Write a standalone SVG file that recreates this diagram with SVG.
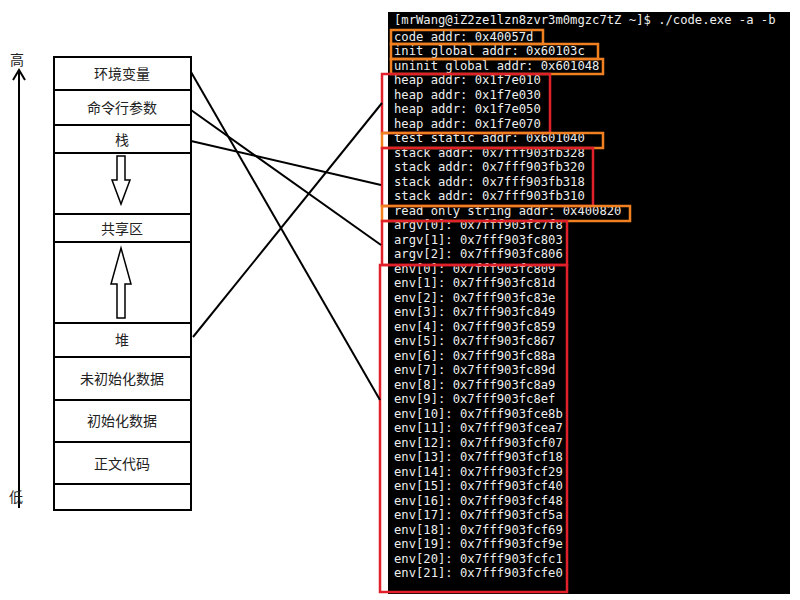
<svg xmlns="http://www.w3.org/2000/svg" width="800" height="600" viewBox="0 0 800 600">
<style>
.cell{fill:#fff;stroke:#000;stroke-width:2}
.lbl{font-family:"Noto Sans CJK SC",sans-serif;font-size:14px;fill:#222;text-anchor:middle}
.t{font-family:"DejaVu Sans Mono",monospace;font-size:12.2px;fill:#eee}
.ob{fill:none;stroke:#f08020;stroke-width:2.5}
.rb{fill:none;stroke:#e0202a;stroke-width:2.5}
.ln{stroke:#000;stroke-width:2;fill:none}
</style>
<defs><marker id="ah" markerWidth="10" markerHeight="10" refX="5" refY="4" orient="auto" markerUnits="userSpaceOnUse"><path d="M0,9 L5,0 L10,9" fill="none" stroke="#000" stroke-width="2"/></marker></defs>
<rect width="800" height="600" fill="#fff"/>
<g id="axis">
<line x1="19" y1="508" x2="19" y2="72" class="ln"/>
<path d="M13,80 L19,70 L25,80" class="ln"/>
<text x="17" y="65" class="lbl" font-size="13">高</text>
<text x="16" y="502" class="lbl" font-size="13">低</text>
</g>
<g id="memory">
<rect x="54" y="57" width="137" height="33" class="cell"/><text x="122" y="79" class="lbl">环境变量</text>
<rect x="54" y="90" width="137" height="35" class="cell"/><text x="122" y="113" class="lbl">命令行参数</text>
<rect x="54" y="125" width="137" height="28" class="cell"/><text x="122" y="145" class="lbl">栈</text>
<rect x="54" y="153" width="137" height="61" class="cell"/>
<rect x="54" y="214" width="137" height="28" class="cell"/><text x="122" y="234" class="lbl">共享区</text>
<rect x="54" y="242" width="137" height="81" class="cell"/>
<rect x="54" y="323" width="137" height="34" class="cell"/><text x="122" y="345" class="lbl">堆</text>
<rect x="54" y="357" width="137" height="43" class="cell"/><text x="122" y="384" class="lbl">未初始化数据</text>
<rect x="54" y="400" width="137" height="42" class="cell"/><text x="122" y="426" class="lbl">初始化数据</text>
<rect x="54" y="442" width="137" height="42" class="cell"/><text x="122" y="469" class="lbl">正文代码</text>
<rect x="54" y="484" width="137" height="26" class="cell"/>
<path d="M117,156 L125,156 L125,180 L130,180 L121,204 L112,180 L117,180 Z" fill="#fff" stroke="#000" stroke-width="1.5"/>
<path d="M117,318 L125,318 L125,284 L131,284 L121,248 L111,284 L117,284 Z" fill="#fff" stroke="#000" stroke-width="1.5"/>
</g>
<g id="terminal">
<rect x="388" y="12" width="402" height="582" fill="#000"/>
<g class="t">
<text x="394" y="24">[mrWang@iZ2ze1lzn8zvr3m0mgzc7tZ ~]$ ./code.exe -a -b</text>
<text x="394" y="41">code addr: 0x40057d</text>
<text x="394" y="55">init global addr: 0x60103c</text>
<text x="394" y="70">uninit global addr: 0x601048</text>
<text x="394" y="84">heap addr: 0x1f7e010</text>
<text x="394" y="99">heap addr: 0x1f7e030</text>
<text x="394" y="113">heap addr: 0x1f7e050</text>
<text x="394" y="128">heap addr: 0x1f7e070</text>
<text x="394" y="142">test static addr: 0x601040</text>
<text x="394" y="157">stack addr: 0x7fff903fb328</text>
<text x="394" y="171">stack addr: 0x7fff903fb320</text>
<text x="394" y="186">stack addr: 0x7fff903fb318</text>
<text x="394" y="200">stack addr: 0x7fff903fb310</text>
<text x="394" y="215">read only string addr: 0x400820</text>
<text x="394" y="229">argv[0]: 0x7fff903fc7f8</text>
<text x="394" y="244">argv[1]: 0x7fff903fc803</text>
<text x="394" y="258">argv[2]: 0x7fff903fc806</text>
<text x="394" y="273">env[0]: 0x7fff903fc809</text>
<text x="394" y="287">env[1]: 0x7fff903fc81d</text>
<text x="394" y="302">env[2]: 0x7fff903fc83e</text>
<text x="394" y="316">env[3]: 0x7fff903fc849</text>
<text x="394" y="331">env[4]: 0x7fff903fc859</text>
<text x="394" y="345">env[5]: 0x7fff903fc867</text>
<text x="394" y="360">env[6]: 0x7fff903fc88a</text>
<text x="394" y="374">env[7]: 0x7fff903fc89d</text>
<text x="394" y="389">env[8]: 0x7fff903fc8a9</text>
<text x="394" y="403">env[9]: 0x7fff903fc8ef</text>
<text x="394" y="418">env[10]: 0x7fff903fce8b</text>
<text x="394" y="432">env[11]: 0x7fff903fcea7</text>
<text x="394" y="447">env[12]: 0x7fff903fcf07</text>
<text x="394" y="461">env[13]: 0x7fff903fcf18</text>
<text x="394" y="476">env[14]: 0x7fff903fcf29</text>
<text x="394" y="490">env[15]: 0x7fff903fcf40</text>
<text x="394" y="505">env[16]: 0x7fff903fcf48</text>
<text x="394" y="519">env[17]: 0x7fff903fcf5a</text>
<text x="394" y="534">env[18]: 0x7fff903fcf69</text>
<text x="394" y="548">env[19]: 0x7fff903fcf9e</text>
<text x="394" y="563">env[20]: 0x7fff903fcfc1</text>
<text x="394" y="577">env[21]: 0x7fff903fcfe0</text>
</g>
<rect x="391" y="30" width="152" height="14" class="ob"/>
<rect x="391" y="44" width="207" height="15" class="ob"/>
<rect x="391" y="59" width="212" height="15" class="ob"/>
<rect x="382" y="74" width="168" height="59" class="rb"/>
<rect x="382" y="133" width="221" height="15" class="ob"/>
<rect x="382" y="148" width="211" height="58" class="rb"/>
<rect x="382" y="206" width="248" height="15" class="ob"/>
<rect x="382" y="221" width="185" height="44" class="rb"/>
<rect x="380" y="265" width="187" height="327" class="rb"/>
</g>
<g id="connectors" class="ln">
<line x1="191" y1="72" x2="380" y2="400"/>
<line x1="191" y1="110" x2="381" y2="245"/>
<line x1="191" y1="141" x2="381" y2="185"/>
<line x1="193" y1="337" x2="382" y2="103"/>
</g>
</svg>
